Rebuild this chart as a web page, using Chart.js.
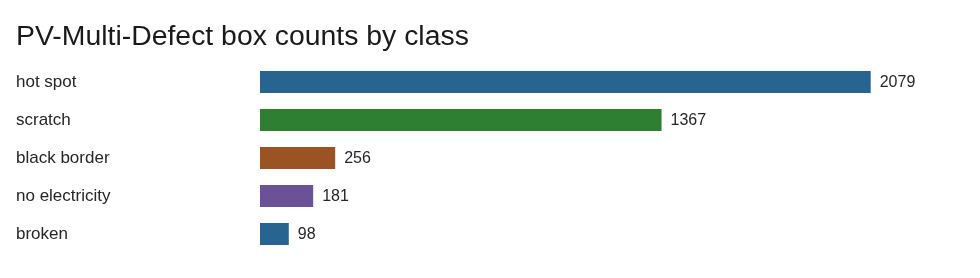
<!DOCTYPE html>
<html>
<head>
<meta charset="utf-8">
<script src="https://cdn.jsdelivr.net/npm/chart.js@4"></script>
<style>
  html, body { margin: 0; padding: 0; background: #fff; }
  #wrap { width: 980px; height: 278px; }
</style>
</head>
<body>
<div id="wrap"><canvas id="boxChart" width="980" height="278"></canvas></div>
<script>
// class names and box counts
const classes = ['hot spot', 'scratch', 'black border', 'no electricity', 'broken'];
const boxCounts = [2079, 1367, 256, 181, 98];
const barColors = ['#27648f', '#2f7f33', '#9b5323', '#6b5196', '#27648f'];

const FONT = 'Liberation Sans, Arial, sans-serif';

// write the count right after each bar
const valueLabels = {
  id: 'valueLabels',
  afterDatasetsDraw(chart){
    const ctx = chart.ctx;
    const meta = chart.getDatasetMeta(0);
    ctx.save();
    ctx.font = '16px ' + FONT;
    ctx.fillStyle = '#262626';
    ctx.textAlign = 'left';
    ctx.textBaseline = 'middle';
    meta.data.forEach((bar, i) => {
      ctx.fillText(String(boxCounts[i]), bar.x + 9, bar.y + 0.5);
    });
    ctx.restore();
  }
};

new Chart(document.getElementById('boxChart'), {
  type: 'bar',
  data: {
    labels: classes,
    datasets: [{ data: boxCounts, backgroundColor: barColors, borderWidth: 0,
      categoryPercentage: 1, barPercentage: 0.58 }]
  },
  options: {
    indexAxis: 'y',
    responsive: false,
    animation: false,
    layout: { padding: { left: 16, right: 15, top: 20, bottom: 25 } },
    plugins: {
      legend: { display: false },
      tooltip: { enabled: false },
      title: {
        display: true,
        text: 'PV-Multi-Defect box counts by class',
        align: 'start',
        color: '#1a1a1a',
        font: { family: FONT, size: 28.4, weight: 'normal' },
        padding: { top: 0, bottom: 8.9 }
      }
    },
    scales: {
      x: { display: false, min: 0, max: 2400 },
      y: {
        grid: { display: false },
        border: { display: false },
        ticks: { crossAlign: 'far', color: '#262626', font: { family: FONT, size: 17 } },
        afterFit(scale){ scale.width = 244; }
      }
    }
  },
  plugins: [valueLabels]
});
</script>
</body>
</html>
